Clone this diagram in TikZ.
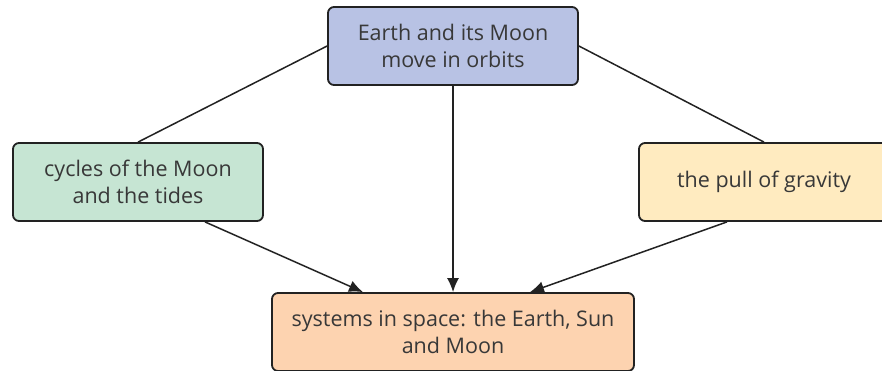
\documentclass[tikz,border=0pt]{standalone}
\usepackage{fontspec}
\setmainfont{Open Sans}
\usepackage{xcolor}
\usepackage{tikz}
\usetikzlibrary{arrows.meta,positioning,calc}

\definecolor{boxblue}{HTML}{B8C2E4}
\definecolor{boxgreen}{HTML}{C6E5D3}
\definecolor{boxyellow}{HTML}{FFEBC0}
\definecolor{boxorange}{HTML}{FDD3B0}
\definecolor{inkline}{HTML}{222222}

\begin{document}
\begin{tikzpicture}[
  x=1pt, y=-1pt,
  n/.style={draw=inkline, line width=1.8pt, rounded corners=6pt, minimum width=250pt, minimum height=78pt,
    align=center, text=inkline!90, font=\fontsize{21.5}{27}\selectfont},
  ln/.style={draw=inkline, line width=1.5pt},
  ar/.style={ln, -{Latex[length=14pt, width=12pt]}}
]
\useasboundingbox (0,0) rectangle (882,370);
\node[n, fill=boxblue] (orbit) at (453,46) {Earth and its Moon\\move in orbits};
\node[n, fill=boxgreen] (cycles) at (138,182) {cycles of the Moon\\and the tides};
\node[n, fill=boxyellow] (gravity) at (764,182) {the pull of gravity};
\node[n, fill=boxorange, minimum width=362pt] (systems) at (453,332) {systems in space: the Earth, Sun\\and Moon};
\draw[ln] (orbit.west) -- (cycles.north);
\draw[ln] (orbit.east) -- (gravity.north);
\draw[ar] (orbit.south) -- (systems.north);
\draw[ar] ([xshift=67pt]cycles.south) -- ([xshift=-90pt]systems.north);
\draw[ar] ([xshift=-37pt]gravity.south) -- ([xshift=77pt]systems.north);
\end{tikzpicture}
\end{document}
